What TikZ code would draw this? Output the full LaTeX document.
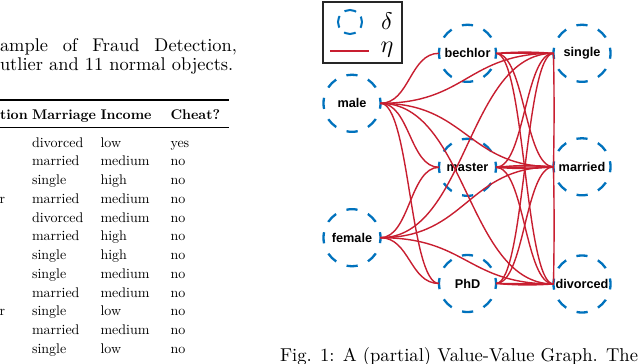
\documentclass[tikz,border=0pt]{standalone}
\usepackage{fontspec}
\usepackage{graphicx}
\newfontfamily\lblfont{Liberation Sans}
\usetikzlibrary{calc}
\definecolor{nodeblue}{RGB}{0,114,189}
\definecolor{edgered}{RGB}{200,30,48}
\newcommand{\rmscaled}[2]{\scalebox{#1}{\fontsize{10}{12}\selectfont #2}}
\begin{document}
\begin{tikzpicture}[x=1pt,y=-1pt,
  vnode/.style={circle, minimum size=57pt, inner sep=0pt, outer sep=0pt,
    draw=nodeblue, line width=2.3pt,
    dash pattern=on 11.19pt off 11.19pt, dash phase=5.6pt,
    font=\lblfont\bfseries\fontsize{12.7}{14}\selectfont},
  rline/.style={draw=edgered, line width=1.4pt},
  hlink/.style={to path={let \p1=(\tikztostart), \p2=(\tikztotarget) in
    .. controls ({0.5*\x1+0.5*\x2},{\y1}) and ({0.5*\x1+0.5*\x2},{\y2}) .. (\tikztotarget)}},
  txt/.style={anchor=base west, inner sep=0pt, outer sep=0pt},
]
\fill[white] (0,0) rectangle (640,364);
\useasboundingbox (0,0) rectangle (640,364);

% ---- left caption text (cropped) ----
\node[txt] (c1) at (0,51.7) {\rmscaled{1.84}{\hbox to 128.8pt{ample\hfill of\hfill Fraud\hfill Detection,}}};
\node[txt] (c2) at (0,70.7) {\rmscaled{1.84}{utlier and 11 normal objects.}};

% ---- table ----
\draw[line width=1.2pt] (0,100) -- (229,100);
\draw[line width=0.8pt] (0,127.3) -- (229,127.3);
\node[txt] (h0) at (0,119.5) {\rmscaled{1.4}{\bfseries tion}};
\node[txt] (h1) at (32,119.5) {\rmscaled{1.4}{\bfseries Marriage}};
\node[txt] (h2) at (100.5,119.5) {\rmscaled{1.4}{\bfseries Income}};
\node[txt] (h3) at (170.5,119.5) {\rmscaled{1.4}{\bfseries Cheat?}};
\foreach \i/\m/\inc/\ch in {0/divorced/low/yes, 1/married/medium/no, 2/single/high/no,
  3/married/medium/no, 4/divorced/medium/no, 5/married/high/no, 6/single/high/no,
  7/single/medium/no, 8/married/medium/no, 9/single/low/no, 10/married/medium/no,
  11/single/low/no}{
  \node[txt] (m\i) at (32,147+18.75*\i) {\rmscaled{1.4}{\m}};
  \node[txt] (n\i) at (100.5,147+18.75*\i) {\rmscaled{1.4}{\inc}};
  \node[txt] (q\i) at (170.5,147+18.75*\i) {\rmscaled{1.4}{\ch}};
}
\node[txt] (r3) at (-0.5,203.25) {\rmscaled{1.4}{r}};
\node[txt] (r9) at (-0.5,315.75) {\rmscaled{1.4}{r}};

% ---- legend ----
\draw[line width=1.3pt, draw=black!85] (323,2) rectangle (402,63);
\draw[nodeblue, line width=2pt, dash pattern=on 12pt off 6.85pt, dash phase=6pt] (350,22) circle[radius=12];
\node[inner sep=0pt] (dl) at (387,21.5) {\scalebox{2.4}{$\delta$}};
\coordinate (l1) at (330,51);
\coordinate (l2) at (369,51);
\draw[rline, line width=2pt] (l1) -- (l2);
\node[inner sep=0pt] (el) at (387,50) {\scalebox{2.4}{$\eta$}};

% ---- value nodes ----
\node[vnode] (male)     at (352,103.3) {male};
\node[vnode] (female)   at (352,237.7) {female};
\node[vnode] (bechlor)  at (467.5,53.3) {bechlor};
\node[vnode] (master)   at (467.5,167.3) {master};
\node[vnode] (PhD)      at (467.5,283.5) {PhD};
\node[vnode] (single)   at (582,53.3) {single};
\node[vnode] (married)  at (582,166.8) {married};
\node[vnode] (divorced) at (582,284) {divorced};

% ---- couplings ----
\foreach \a/\b in {male/bechlor, male/master, male/PhD, male/single, male/married, male/divorced,
  female/master, female/PhD, female/single, female/married, female/divorced,
  bechlor/single, bechlor/married, bechlor/divorced,
  master/single, master/married, master/divorced,
  PhD/single, PhD/married, PhD/divorced}{
  \draw[rline] (\a.east) to[hlink] (\b.west);
}
\draw[rline] (bechlor.east) to[bend left=4] (single.west);
\draw[rline] (master.east) to[bend left=5] (married.west);
\draw[rline] (master.east) to[bend right=5] (married.west);
\draw[rline] (PhD.east) to[bend right=4] (divorced.west);
\draw[draw=edgered, line width=1.4pt] (single.west) to[bend left=1] (married.west);
\draw[draw=edgered, line width=1.4pt] (married.west) to[bend left=1] (divorced.west);

% ---- caption ----
\node[txt] (cap) at (280,361) {\rmscaled{1.86}{Fig. 1: A (partial) Value-Value Graph. The}};
\end{tikzpicture}
\end{document}
